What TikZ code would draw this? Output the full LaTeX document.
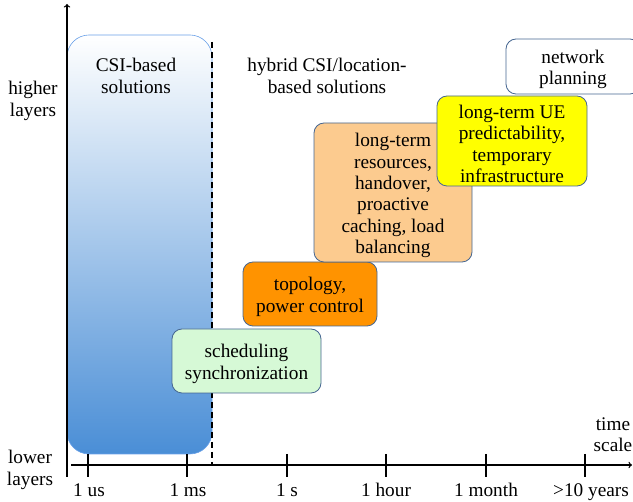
\documentclass[tikz,border=0pt]{standalone}
\usepackage{fontspec}
\setmainfont{Liberation Serif}
\usetikzlibrary{positioning}

\definecolor{edgeblue}{RGB}{70,102,145}
\definecolor{csiedge}{RGB}{105,160,232}
\definecolor{csimid}{RGB}{178,210,250}
\definecolor{csibottom}{RGB}{74,142,214}
\definecolor{schedgreen}{RGB}{214,249,214}
\definecolor{topoorange}{RGB}{255,147,0}
\definecolor{termpeach}{RGB}{252,203,143}
\definecolor{ueyellow}{RGB}{255,255,0}

\begin{document}
\begin{tikzpicture}[x=1pt, y=-1pt,
    every node/.style={font=\fontsize{19.3}{21.3}\selectfont, align=center, inner sep=0pt},
    phase/.style={draw=edgeblue, line width=0.8pt, rounded corners=10pt},
    axis/.style={line width=1.3pt}]
        \clip (0,0) rectangle (633,502);
        \useasboundingbox (0,0) rectangle (633,502);
        % CSI-based region
        \node[draw=csiedge, line width=0.6pt, rounded corners=22pt,
              top color=white, middle color=csimid, bottom color=csibottom,
              minimum width=145pt, minimum height=419pt](csi) at (139.5, 244.5) {};
        \node(csilabel) at (136, 76) {CSI-based\\solutions};
        \node(hybrid) at (327, 76) {hybrid CSI/location-\\based solutions};
        % axes
        \coordinate (ybot) at (67, 477);
        \coordinate (ytop) at (67, 4);
        \coordinate (xleft) at (71, 465);
        \coordinate (xright) at (632, 465);
        \coordinate (splittop) at (212, 42);
        \coordinate (splitbot) at (212, 465);
        \draw[axis, ->] (ybot) -- (ytop);
        \draw[axis, ->] (xleft) -- (xright);
        \draw[axis, dash pattern=on 6pt off 4pt] (splittop) -- (splitbot);
        \node(higher) at (33, 101) {higher\\layers};
        \node(lower) at (30, 470) {lower\\layers};
        \node(timescale) at (613, 435) {time\\scale};
        \foreach \x/\lx/\lab [count=\i] in {88/89/1 us, 187/188/1 ms, 287/287/1 s,
                386/386/1 hour, 486/486/1 month, 585/591/>10 years} {
            \coordinate (tt\i) at (\x, 454);
            \coordinate (tb\i) at (\x, 477);
            \draw[axis] (tt\i) -- (tb\i);
            \node[anchor=base](tick\i) at (\lx, 497) {\lab};
        }
        % solutions per time scale
        \node[phase, fill=schedgreen, minimum width=149pt, minimum height=64pt](sched) at (246.5, 361) {};
        \node[phase, fill=topoorange, minimum width=134pt, minimum height=64pt](topo) at (310, 294) {};
        \node[phase, fill=termpeach, minimum width=158pt, minimum height=139pt](longterm) at (393, 192.5) {};
        \node[phase, fill=ueyellow, minimum width=150pt, minimum height=90pt](ue) at (512, 141) {};
        \node[phase, fill=white, minimum width=134pt, minimum height=55pt](netplan) at (573, 66.5) {};
        \node[yshift=-3pt](schedtext) at (sched) {scheduling\\synchronization};
        \node[yshift=-3pt](topotext) at (topo) {topology,\\power control};
        \node[yshift=-3pt](longtermtext) at (longterm) {long-term\\resources,\\handover,\\proactive\\caching, load\\balancing};
        \node[yshift=-3pt](uetext) at (ue) {long-term UE\\predictability,\\temporary\\infrastructure};
        \node[yshift=-3pt](netplantext) at (netplan) {network\\planning};
    \end{tikzpicture}
\end{document}
